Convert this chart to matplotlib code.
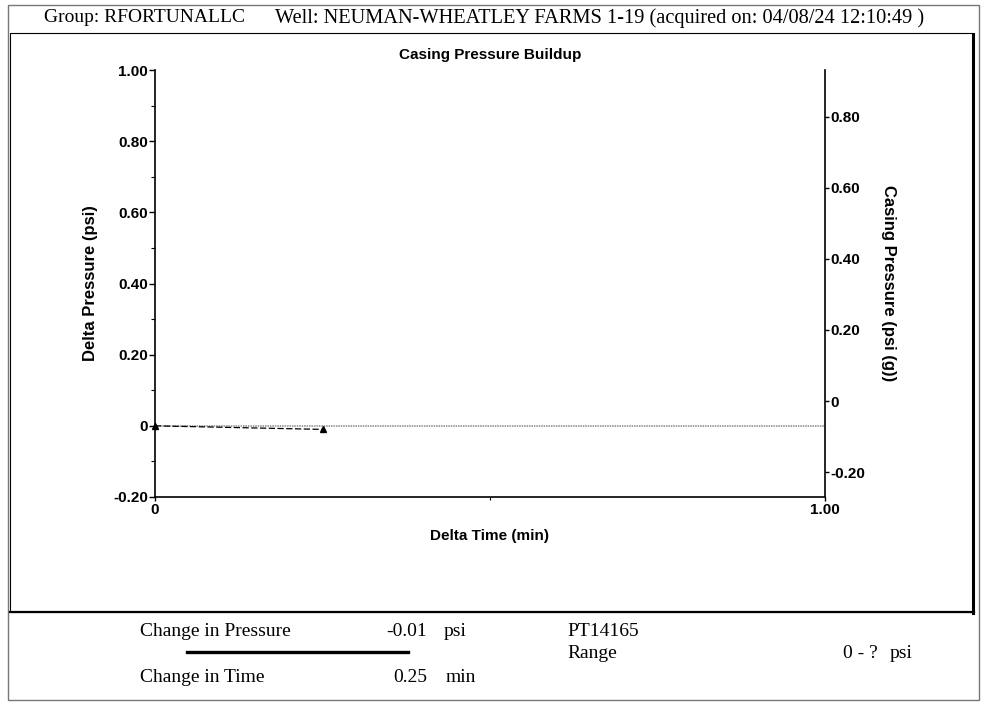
import matplotlib.pyplot as plt
from matplotlib.patches import Rectangle
from matplotlib.lines import Line2D

# data
delta_time_min = [0, 0.25]
delta_pressure_psi = [0, -0.01]
baseline_time = [0, 1.0]
baseline_psi = [0, 0]

left_ticks = [-0.2, 0, 0.2, 0.4, 0.6, 0.8, 1.0]
left_labels = ["-0.20", "0", "0.20", "0.40", "0.60", "0.80", "1.00"]
right_ticks = [-0.2, 0, 0.2, 0.4, 0.6, 0.8]
right_labels = ["-0.20", "0", "0.20", "0.40", "0.60", "0.80"]
x_ticks = [0, 1.0]
x_labels = ["0", "1.00"]

group = "RFORTUNALLC"
well = "NEUMAN-WHEATLEY FARMS 1-19"
acquired = "04/08/24 12:10:49"
change_pressure = "-0.01"
change_time = "0.25"
sensor = "PT14165"
sensor_range = "0 - ?"

W, H = 984, 702
SANS = "Liberation Sans"
SERIF = "Liberation Serif"


def px(x, y):
    return x / W, 1 - y / H


fig = plt.figure(figsize=(W / 100, H / 100), dpi=100)

# outer and inner frames
fig.patches.append(Rectangle(px(8, 700), 971 / W, 695 / H, transform=fig.transFigure,
                             fill=False, edgecolor="#777777", lw=1))
fig.patches.append(Rectangle(px(10, 612), 963 / W, 579 / H, transform=fig.transFigure,
                             fill=False, edgecolor="black", lw=0.8))
fig.lines.append(Line2D([973 / W, 973 / W], [1 - 34 / H, 1 - 613 / H], transform=fig.transFigure,
                        color="black", lw=2.2))
fig.lines.append(Line2D([10 / W, 974 / W], [1 - 612 / H, 1 - 612 / H], transform=fig.transFigure,
                        color="black", lw=1.6))

ax = fig.add_axes([155 / W, 1 - 497 / H, 670 / W, 427 / H])
ax.plot(baseline_time, baseline_psi, color="#888888", ls=(0, (1, 0.6)), lw=1.1)
ax.plot(delta_time_min, delta_pressure_psi, color="black", ls=(0, (5, 2)), lw=0.9,
        marker="^", ms=4, clip_on=False)
ax.set_xlim(0, 1)
ax.set_ylim(-0.2, 1.0)
ax.set_yticks(left_ticks)
ax.set_yticklabels(left_labels)
ax.set_yticks([-0.1, 0.1, 0.3, 0.5, 0.7, 0.9], minor=True)
ax.set_xticks(x_ticks)
ax.set_xticklabels(x_labels)
ax.set_xticks([0.5], minor=True)
ax.spines["top"].set_visible(False)
ax.spines["right"].set_visible(False)
for s in ["left", "bottom"]:
    ax.spines[s].set_linewidth(1.2)
ax.tick_params(axis="y", which="major", length=4, width=1, pad=1)
ax.tick_params(axis="y", which="minor", length=3, width=0.8)
ax.tick_params(axis="x", which="major", length=3, width=1, pad=1)
ax.tick_params(axis="x", which="minor", length=2, width=0.8)
for lab in ax.get_xticklabels() + ax.get_yticklabels():
    lab.set_fontfamily(SANS)
    lab.set_fontweight("bold")
    lab.set_fontsize(11)
ax.set_xlabel("Delta Time (min)", fontfamily=SANS, fontweight="bold", fontsize=11, labelpad=9)
ax.set_ylabel("Delta Pressure (psi)", fontfamily=SANS, fontweight="bold", fontsize=12, va="center")
ax.yaxis.set_label_coords((91 - 155) / 670, 0.5)

ax2 = ax.twinx()
ax2.set_ylim(-0.27, 0.931)
ax2.set_yticks(right_ticks)
ax2.set_yticklabels(right_labels)
for s in ["top", "left", "bottom"]:
    ax2.spines[s].set_visible(False)
ax2.spines["right"].set_linewidth(1.2)
ax2.tick_params(axis="y", length=3, width=1, pad=1)
for lab in ax2.get_yticklabels():
    lab.set_fontfamily(SANS)
    lab.set_fontweight("bold")
    lab.set_fontsize(11)
ax2.set_ylabel("Casing Pressure (psi (g))", fontfamily=SANS, fontweight="bold", fontsize=12,
               rotation=-90, va="center")
ax2.yaxis.set_label_coords((888 - 155) / 670, 0.5)

fig.text(*px(490, 55), "Casing Pressure Buildup", ha="center", va="center",
         fontfamily=SANS, fontweight="bold", fontsize=11)

# header
fig.text(*px(44, 18), f"Group: {group}", fontfamily=SERIF, fontsize=14, va="center", ha="left")
fig.text(*px(275, 18), f"Well: {well} (acquired on: {acquired} )", fontfamily=SERIF,
         fontsize=14.7, va="center", ha="left")

# footer
foot = dict(fontfamily=SERIF, fontsize=14, va="center")
fig.text(*px(140, 631), "Change in Pressure", ha="left", **foot)
fig.text(*px(427, 631), change_pressure, ha="right", **foot)
fig.text(*px(444, 631), "psi", ha="left", **foot)
fig.lines.append(Line2D([187 / W, 408 / W], [1 - 652 / H, 1 - 652 / H], transform=fig.transFigure,
                        color="black", lw=2.4))
fig.text(*px(140, 678), "Change in Time", ha="left", **foot)
fig.text(*px(427, 678), change_time, ha="right", **foot)
fig.text(*px(446, 678), "min", ha="left", **foot)
fig.text(*px(567, 631), sensor, ha="left", **foot)
fig.text(*px(567, 653), "Range", ha="left", **foot)
fig.text(*px(878, 653), sensor_range, ha="right", **foot)
fig.text(*px(890, 653), "psi", ha="left", **foot)

fig.savefig("out.png", dpi=100)
